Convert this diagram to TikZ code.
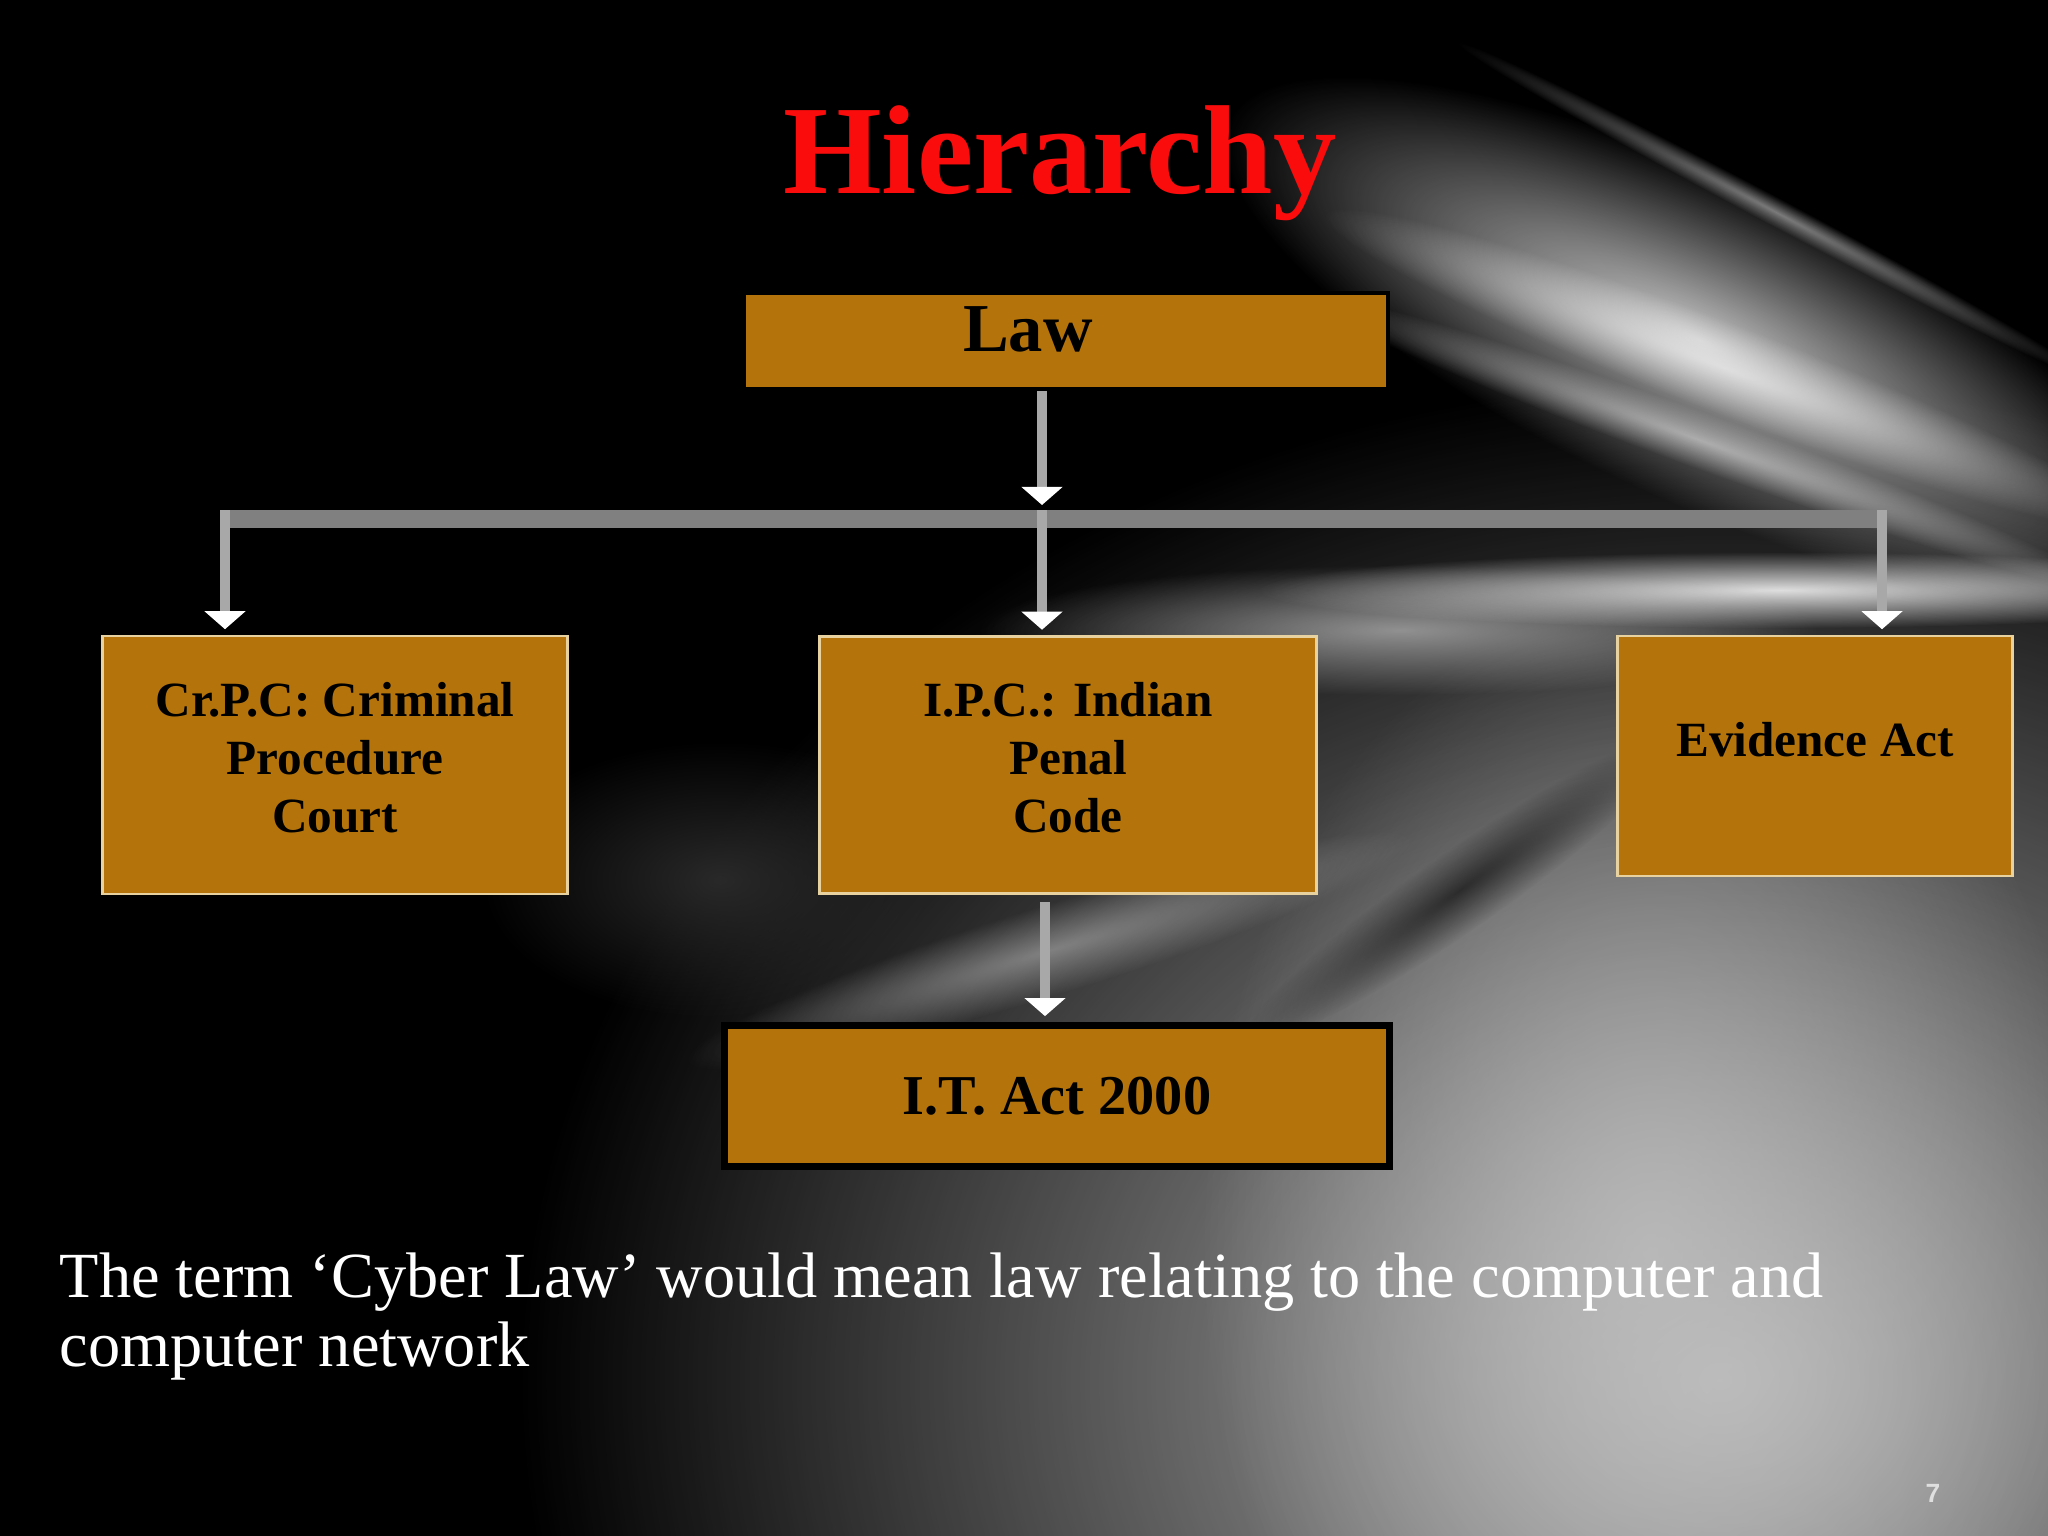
\documentclass[tikz,border=0pt]{standalone}
\usepackage{fontspec}
\setmainfont{Liberation Serif}
\newfontfamily\pagenofont{Liberation Sans}
\usetikzlibrary{arrows.meta, positioning, calc, fadings}

\definecolor{boxgold}{RGB}{181,116,11}
\definecolor{boxrim}{RGB}{232,210,160}
\definecolor{bargray}{RGB}{128,128,128}
\definecolor{dropgray}{RGB}{168,168,168}
\definecolor{titlered}{RGB}{250,12,12}

\tikzfading[name=glow, inner color=transparent!0, outer color=transparent!100]

\tikzset{
  lawbox/.style={
    rectangle, fill=boxgold, draw=black, line width=1pt, inner sep=0pt,
    align=center, font=\bfseries\fontsize{14}{16.5}\selectfont
  },
  rimbox/.style={lawbox, draw=boxrim, line width=0.8pt},
  darkbox/.style={lawbox, line width=1.9pt, font=\bfseries\fontsize{16}{18}\selectfont},
  bar/.style={bargray, line width=5.1pt},
  drop/.style={dropgray, line width=2.8pt, -{Triangle[width=4mm, length=1.8mm, color=white]}},
  streak/.style={white, path fading=glow}
}

\begin{document}
\begin{tikzpicture}[x=0.01cm, y=-0.01cm]
  \useasboundingbox (0,0) rectangle (2048,1536);
  % backdrop
  \fill[black] (0,0) rectangle (2048,1536);
  \fill[white!72!black, path fading=glow] (1720,1380) ellipse [x radius=1200, y radius=1000];
  \fill[white!75!black, path fading=glow, opacity=.8] (1650,1250) ellipse [x radius=450, y radius=650];
  \fill[white!16!black, path fading=glow] (720,880) ellipse [x radius=240, y radius=140];
  \begin{scope}[transform canvas={rotate around={-25:(1700,340)}}]
    \fill[gray!45, path fading=glow] (1700,340) ellipse [x radius=520, y radius=160];
  \end{scope}
  \begin{scope}[transform canvas={rotate around={-21:(1725,368)}}]
    \fill[streak, opacity=.6] (1725,368) ellipse [x radius=430, y radius=45];
  \end{scope}
  \begin{scope}[transform canvas={rotate around={-28:(1776,212)}}]
    \fill[streak, opacity=.45] (1776,212) ellipse [x radius=360, y radius=14];
  \end{scope}
  \begin{scope}[transform canvas={rotate around={-20:(1700,440)}}]
    \fill[streak, opacity=.5] (1700,440) ellipse [x radius=420, y radius=28];
  \end{scope}
  \fill[gray!65, path fading=glow, opacity=.8] (1400,630) ellipse [x radius=420, y radius=65];
  \fill[streak, opacity=.85] (1780,590) ellipse [x radius=520, y radius=38];
  \begin{scope}[transform canvas={rotate around={17:(1050,950)}}]
    \fill[gray!60, path fading=glow, opacity=.6] (1050,950) ellipse [x radius=380, y radius=45];
  \end{scope}
  \begin{scope}[transform canvas={rotate around={35:(1460,890)}}]
    \fill[black, path fading=glow, opacity=.6] (1460,890) ellipse [x radius=260, y radius=40];
  \end{scope}

  \node[font=\bfseries\fontsize{36}{40}\selectfont, text=titlered, anchor=base] (title) at (1060,193) {Hierarchy};

  % boxes
  \node[lawbox, minimum width=6.44cm, minimum height=0.96cm] (law) at (1066,341) {};
  \node[font=\bfseries\fontsize{19.5}{22}\selectfont] (lawtext) at ([xshift=-3.8mm, yshift=1.2mm]law.center) {Law};
  \node[rimbox, minimum width=4.64cm, minimum height=2.58cm, text depth=0.16cm] (crpc) at (335,765) {Cr.P.C: Criminal\\Procedure\\Court};
  \node[rimbox, minimum width=4.97cm, minimum height=2.57cm, text depth=0.16cm] (ipc) at (1068,765) {I.P.C.: Indian\\Penal\\Code};
  \node[rimbox, minimum width=3.95cm, minimum height=2.40cm, text depth=0.34cm] (evid) at (1815,756) {Evidence Act};
  \node[darkbox, minimum width=6.65cm, minimum height=1.41cm] (itact) at (1057,1096) {I.T. Act 2000};

  % connectors
  \coordinate (hubL) at (225,519);
  \coordinate (hubC) at (1042,519);
  \coordinate (hubR) at (1882,519);
  \draw[bar] ($(hubL)+(-5,0)$) -- ($(hubR)+(5,0)$);
  \draw[drop] (law.south -| hubC) -- ($(hubC)+(0,-14)$);
  \draw[drop, shorten >=1.5pt] ($(hubL)+(0,-9)$) -- (crpc.north -| hubL);
  \draw[drop, shorten >=1.5pt] ($(hubC)+(0,-9)$) -- (ipc.north -| hubC);
  \draw[drop, shorten >=1.5pt] ($(hubR)+(0,-9)$) -- (evid.north -| hubR);
  \draw[drop] ($(ipc.south)+(-23,7)$) -- ($(itact.north)+(-12,-6)$);

  \node[anchor=base west, align=left, text=white, inner sep=0pt,
    font=\fontsize{18.3}{19.4}\selectfont] (note) at (59,1366)
    {The term ‘Cyber Law’ would mean law relating to the computer and\\computer network};
  \node[font=\pagenofont\bfseries\fontsize{7.5}{9}\selectfont, text=gray!25] (pageno) at (1933,1493) {7};
\end{tikzpicture}
\end{document}
